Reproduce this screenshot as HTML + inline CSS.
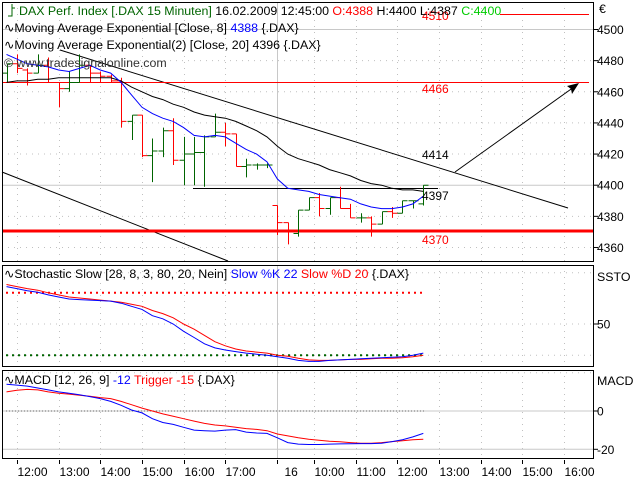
<!DOCTYPE html>
<html><head><meta charset="utf-8"><style>
html,body{margin:0;padding:0;background:#fff;}
svg{display:block;font-family:"Liberation Sans",Arial,sans-serif;}
</style></head><body>
<svg id="chart" width="640" height="480" viewBox="0 0 640 480" xmlns="http://www.w3.org/2000/svg">
<rect width="640" height="480" fill="#fff"/>
<g id="grid"></g>
<g id="drawings"></g>
<g id="series"></g>
<g id="frames"></g>
<g id="labels" font-size="12"></g>
</svg>
<script>
// ===== data =====
const opens  = [4472,4478,4474,4472,4477,4466,4462,4466,4477,4472,4470,4467,4441,4445,4419,4422,4435,4416,4420,4421,4431,4434,4433,4412,4413,4413, 4387,4376,4369,4384,4392,4385,4392,4385,4379,4379,4375,4383,4382,4390,4388];
const highs  = [4478,4484,4475,4484,4482,4466,4473,4484,4477,4473,4471,4469,4445,4445,4430,4437,4443,4431,4431,4432,4446,4440,4433,4417,4414,4414, 4387,4376,4384,4392,4395,4392,4399,4388,4382,4380,4383,4386,4390,4390,4400];
const lows   = [4466,4472,4464,4472,4466,4450,4460,4466,4466,4466,4466,4437,4429,4418,4402,4418,4413,4400,4400,4399,4431,4425,4412,4405,4410,4411, 4368,4362,4367,4384,4380,4381,4385,4379,4376,4367,4375,4379,4382,4385,4387];
const closes = [4478,4475,4472,4477,4466,4462,4466,4477,4472,4470,4467,4441,4445,4419,4422,4435,4416,4420,4421,4431,4434,4433,4412,4413,4413,4413, 4376,4370,4384,4392,4385,4392,4385,4379,4379,4375,4383,4382,4390,4390,4400];
const ema8   = [4484,4481,4478,4477,4476,4474,4473,4475,4477,4474,4472,4466,4458,4450,4446,4443,4441,4437,4432,4431,4432,4431,4427,4423,4420,4415,4404,4398,4397,4396,4394,4393,4392,4391,4388,4386,4385,4385,4386,4388,4393];
const ema20  = [4466,4467,4467,4468,4468,4469,4469,4469,4469,4469,4469,4467,4463,4460,4457,4455,4452,4450,4447,4445,4444,4443,4441,4438,4435,4431,4425,4420,4417,4415,4413,4410,4408,4406,4403,4401,4400,4398,4397,4397,4396];
const stochK = [86,84,82,80.5,78,76,74,73.5,73,72.5,72,70,67,64,58,55,50,43,37,31,27,25,23.5,22,21,20,18.6,17,15,14,14,15,15.5,16,16.5,17,17.5,18,18.5,20,22];
const stochD = [88,86,84,82.5,80,78,76,75,74,73,72,71,69,67,63,60,56,50,45,39,33,29,26,24,23,22,20,19,17,15.5,15,15,15.5,16,16,16.5,17,17,17.5,18.5,20];
const macd   = [14,13.5,13,12,11,10,9.3,8.5,7.5,6.5,5,3,0.5,-1,-4,-6,-7,-8.5,-10,-10.3,-10.5,-10,-9.7,-11,-11.5,-11.7,-14,-16.5,-17.3,-17.5,-17.5,-17.3,-17.2,-17.1,-17,-17,-16.8,-16,-15,-13.5,-11.7];
const trigger= [10,10.8,11.3,11,10,9.3,8.8,8.2,7.7,7,6.5,5,3.3,1.5,0,-1.5,-2.7,-4,-5.3,-6.5,-7.3,-7.8,-8.5,-9.2,-9.6,-10.3,-12,-13,-14,-14.8,-15.3,-15.8,-16.1,-16.5,-16.8,-16.8,-16.5,-16,-15.5,-15,-14.7];
const timeLabels = ["12:00","13:00","14:00","15:00","16:00","17:00","16","10:00","11:00","12:00","13:00","14:00","15:00","16:00"];
const timeIdx    = [1,5,9,13,17,21,26,29.5,33.5,37.5,41.5,45.5,49.5,53.5];
const priceTicks = [4360,4380,4400,4420,4440,4460,4480,4500];
const stochTicks = [50];
const macdTicks  = [0,-20];

// ===== axes =====
const X0=6.5, DX=10.42;
const xi = i => X0 + i*DX;
const yP = v => 29.5 + (4500-v)*1.557;
const yS = v => 324 - (v-50)*1.04;
const yM = v => 411 - v*1.915;
const NS="http://www.w3.org/2000/svg";
function mk(tag, attrs, parent){const e=document.createElementNS(NS,tag);for(const k in attrs)e.setAttribute(k,attrs[k]);document.getElementById(parent).appendChild(e);return e;}
function txt(s,x,y,fill,parent,extra){const e=mk('text',Object.assign({x:x,y:y,fill:fill},extra||{}),parent);e.textContent=s;return e;}

const L=2,R=594, panels=[[2,261],[265,366],[370,458]];
priceTicks.forEach(v=>{
  const solid=(v===4400||v===4500);
  const g=mk('line',{x1:L,x2:R,y1:yP(v),y2:yP(v),stroke:solid?'#c8c8c8':'#c0c0c0','stroke-dasharray':solid?'':'1,5'},'grid');
  
  
});
[[yS(80)-20],[yS(50)],[yS(20)]].forEach(a=>{
  const g=mk('line',{x1:L,x2:R,y1:a[0],y2:a[0],stroke:'#c0c0c0','stroke-dasharray':'1,5'},'grid');
  
  
});
[yM(20),yM(0),yM(-20)].forEach((y,k)=>{
  const g=mk('line',{x1:L,x2:R,y1:y,y2:y,stroke:k?'#c8c8c8':'#c0c0c0','stroke-dasharray':k?'':'1,5'},'grid');
  
  
});
timeIdx.forEach((t,k)=>{
  const x=Math.round(xi(t))+0.5;
  panels.forEach(p=>{
    const g=mk('line',{x1:x,x2:x,y1:p[0],y2:p[1],stroke:k===6?'#c8c8c8':'#c0c0c0','stroke-dasharray':k===6?'':'1,5'},'grid');
    
    
  });
  const tk=mk('line',{x1:x,x2:x,y1:460,y2:464,stroke:'#000'},'grid');
  
  
  const lb=txt(timeLabels[k],x+(k===6?7:0),476,'#000','labels');
  
  
});

function dl(a,name,parent){const e=mk('line',a,parent||'drawings');return e;}
dl({x1:60,y1:50,x2:568,y2:208,stroke:'#000'},'upper-trend-line');
dl({x1:2,y1:172,x2:228,y2:261,stroke:'#000'},'lower-trend-line');
dl({x1:193,y1:188.5,x2:438,y2:188.5,stroke:'#000'},'support-line-4397');
dl({x1:2,y1:yP(4466),x2:589,y2:yP(4466),stroke:'#f00'},'level-line-4466');
dl({x1:500,y1:14.5,x2:589,y2:14.5,stroke:'#f00'},'level-line-4510');
dl({x1:2,y1:231,x2:594,y2:231,stroke:'#f00','stroke-width':3},'level-line-4370');
dl({x1:455,y1:172,x2:574,y2:87,stroke:'#000'},'forecast-arrow');
const ah=mk('path',{d:'M579,83 L567,86 L571,89 L572,94 Z',fill:'#000'},'drawings');


[['4510',20,'#f00'],['4466',93,'#f00'],['4414',159,'#000'],['4397',200,'#000'],['4370',244,'#f00']].forEach(a=>{
  const t=txt(a[0],422,a[1],a[2],'labels');
  
  
});

opens.forEach((o,i)=>{
  const x=Math.round(xi(i))+0.5, up=closes[i]>=o, col=up?'#006400':'#f00';
  const g=mk('path',{d:`M${x},${yP(highs[i])}V${yP(lows[i])}M${x-5},${yP(o)}H${x}M${x},${yP(closes[i])}H${x+5}`,stroke:col,fill:'none'},'series');
  
  
});
function poly(arr,yf,col,name){
  const pts=arr.map((v,i)=>xi(i).toFixed(1)+','+yf(v).toFixed(1)).join(' ');
  const e=mk('polyline',{points:pts,fill:'none',stroke:col},'series');
  
  
}
poly(ema20,yP,'#000','ema-20-line');
poly(ema8,yP,'#00f','ema-8-line');
dl({x1:6,x2:424,y1:yS(80),y2:yS(80),stroke:'#f00','stroke-width':2,'stroke-dasharray':'2,4'},'stoch-upper-level','series');
dl({x1:6,x2:424,y1:yS(20),y2:yS(20),stroke:'#006400','stroke-width':2,'stroke-dasharray':'2,4'},'stoch-lower-level','series');
poly(stochD,yS,'#f00','stoch-d-line');
poly(stochK,yS,'#00f','stoch-k-line');
dl({x1:6,x2:424,y1:yM(0),y2:yM(0),stroke:'#666','stroke-dasharray':'1,2'},'macd-zero-line','series');
poly(trigger,yM,'#f00','macd-trigger-line');
poly(macd,yM,'#00f','macd-line');

panels.forEach((p,k)=>{
  const r=mk('rect',{x:2.5,y:p[0]+0.5,width:591,height:p[1]-p[0],fill:'none',stroke:'#000'},'frames');
  
  
});
function yl(s,y,name){const t=txt(s,597,y+4.5,'#000','labels');
  const tk=mk('line',{x1:594,x2:598,y1:y,y2:y,stroke:'#000'},'labels');}
priceTicks.forEach(v=>yl(v,yP(v),'price-axis-label'));
stochTicks.forEach(v=>yl(v,yS(v),'stoch-axis-label'));
macdTicks.forEach(v=>yl(v,yM(v),'macd-axis-label'));
</script>
<svg style="position:absolute;left:0;top:0" width="640" height="480" font-family="Liberation Sans,Arial,sans-serif" font-size="12.4">
<text x="599" y="13">€</text>
<text x="597" y="281">SSTO</text>
<text x="597" y="385">MACD</text>
<path d="M8,16H12V4M12,8H15" stroke="#006400" fill="none"/>
<text x="19" y="15"><tspan fill="#006400">DAX Perf. Index [.DAX  15 Minuten]</tspan><tspan fill="#000"> 16.02.2009 12:45:00 </tspan><tspan fill="#f00">O:4388</tspan><tspan fill="#000"> H:4400 L:4387 </tspan><tspan fill="#0c0">C:4400</tspan></text>
<text x="4" y="32"><tspan>∿Moving Average Exponential [Close, 8] </tspan><tspan fill="#00f">4388</tspan><tspan> {.DAX}</tspan></text>
<text x="4" y="49">∿Moving Average Exponential(2) [Close, 20] 4396 {.DAX}</text>
<text x="4" y="67" fill="#333">© www.tradesignalonline.com</text>
<text x="4" y="278"><tspan>∿Stochastic Slow [28, 8, 3, 80, 20, Nein] </tspan><tspan fill="#00f">Slow %K 22 </tspan><tspan fill="#f00">Slow %D 20 </tspan><tspan>{.DAX}</tspan></text>
<text x="4" y="384"><tspan>∿MACD [12, 26, 9] </tspan><tspan fill="#00f">-12 </tspan><tspan fill="#f00">Trigger -15 </tspan><tspan>{.DAX}</tspan></text>
</svg>
</body></html>
